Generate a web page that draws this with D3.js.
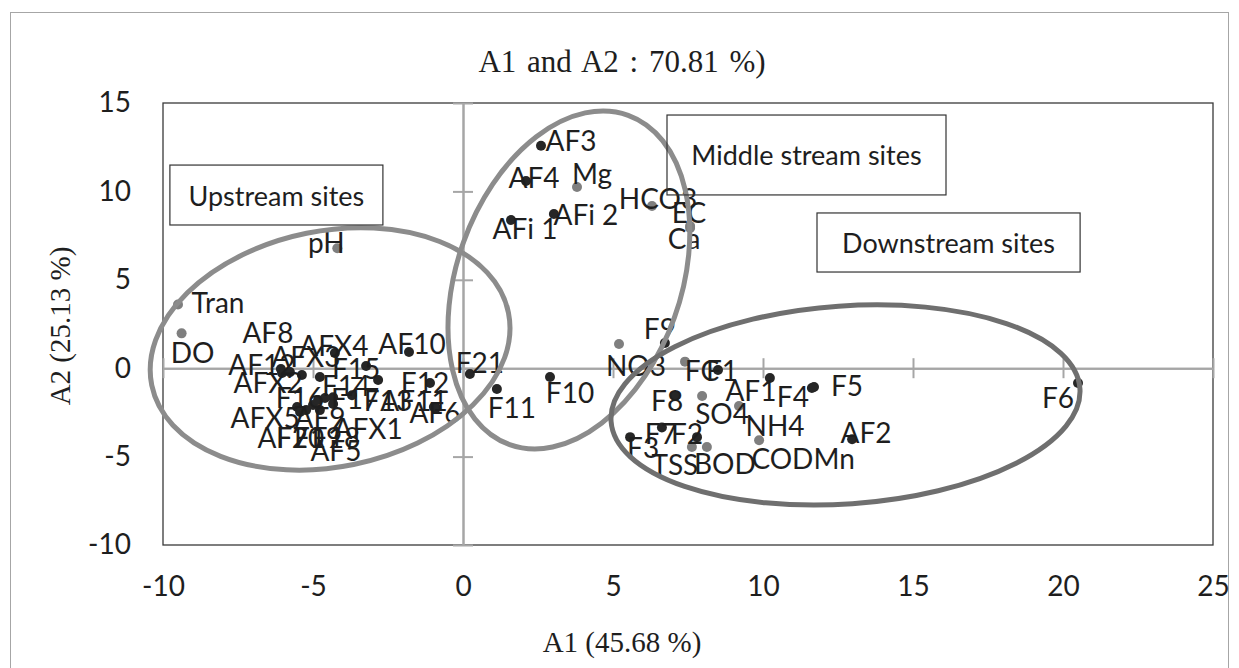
<!DOCTYPE html>
<html>
<head>
<meta charset="utf-8">
<script src="https://d3js.org/d3.v7.min.js"></script>
<style>
  body { margin: 0; background: #fff; }
  svg { display: block; }
</style>
</head>
<body>
<div id="chart"></div>
<script>
// sampling sites (black dots)
var siteNames = ["AF3","AF4","AFi 2","AFi 1","F9","F21","F11","F10",
  "F1","AF1","F4","F5","F8","AF2","F7","F2","F3","F6",
  "AF8","AFX4","AF10","AFX3","AF12","F15","AFX2","F14","F16","F13","F17",
  "AF11","AF6","F12","AFX5","AF9","AFX1","AF7","F20","F19","F18","AF5"];
var siteA1 = [2.60, 2.10, 3.03, 1.60, 6.73, 0.23, 1.13, 2.90,
  8.50, 10.23, 11.63, 11.70, 7.07, 12.97, 6.63, 7.80, 5.57, 20.50,
  -6.07, -4.27, -1.80, -5.37, -5.77, -3.23, -6.03, -2.83, -4.77, -3.70, -4.33,
  -0.90, -0.97, -1.10, -5.53, -5.00, -4.33, -5.43, -5.23, -4.83, -4.60, -4.77];
var siteA2 = [12.58, 10.59, 8.72, 8.38, 1.43, -0.33, -1.18, -0.50,
  -0.10, -0.55, -1.12, -1.06, -1.57, -4.02, -3.35, -3.90, -3.90, -0.84,
  -0.05, 0.86, 0.92, -0.38, -0.22, 0.12, -0.27, -0.67, -0.50, -1.53, -1.64,
  -2.25, -2.19, -0.84, -2.19, -2.08, -2.02, -2.48, -2.37, -1.80, -1.69, -2.37];

// water quality variables (grey dots)
var varNames = ["pH","Tran","DO","Mg","HCO3","EC","Ca","NO3","FC","SO4","NH4","CODMn","TSS","BOD"];
var varA1 = [-4.19, -9.50, -9.38, 3.80, 6.30, 7.57, 7.57, 5.20, 7.40, 7.97, 9.20, 9.87, 7.63, 8.13];
var varA2 = [6.78, 3.60, 1.97, 10.25, 9.17, 8.04, 7.93, 1.37, 0.37, -1.57, -2.14, -4.08, -4.46, -4.46];

var xTicks = [-10, -5, 0, 5, 10, 15, 20, 25];
var yTicks = [-10, -5, 0, 5, 10, 15];

// label placement relative to its dot (px)
var labelOffset = {
  "pH":[-11,-6], "Tran":[40,-3], "DO":[11,19], "AF3":[30,-6], "AF4":[8,-4], "Mg":[15,-14],
  "AFi 2":[32,0], "AFi 1":[14,8], "HCO3":[6,-8], "EC":[-1,-14], "Ca":[-6,10], "F9":[-5,-15],
  "NO3":[17,21], "F21":[10,-12], "F11":[15,18], "F10":[20,15], "FC":[17,8], "F1":[4,0],
  "AF1":[-19,12], "F4":[-19,8], "F5":[33,-2], "F8":[-8,4], "SO4":[20,17], "NH4":[36,19],
  "CODMn":[44,18], "AF2":[14,-7], "F7":[-1,6], "F2":[-10,-4], "F3":[13,10], "TSS":[-17,17],
  "BOD":[18,16], "F6":[-20,14], "AF8":[-13,-37], "AFX4":[-1,-8], "AF10":[3,-9], "AFX3":[4,-19],
  "AF12":[-28,-8], "F15":[-10,2], "AFX2":[-14,9], "F14":[-32,5], "F16":[-20,20], "F13":[36,5],
  "F17":[22,1], "AF11":[-22,-8], "AF6":[1,5], "F12":[-5,-1], "AFX5":[-32,10], "AF9":[7,12],
  "AFX1":[35,24], "AF7":[-17,25], "F20":[-6,27], "F19":[0,37], "F18":[11,39], "AF5":[16,40]
};

// group ellipses: centre in axis units, radii in px, rotation in degrees
var groupEllipses = [
  {cx: -4.43, cy: 1.09, rx: 182, ry: 118, angle: -11.5, color: "#8c8c8c"},
  {cx: 3.53, cy: 4.99, rx: 175, ry: 112, angle: -70.2, color: "#8c8c8c"},
  {cx: 12.75, cy: -2.08, rx: 235, ry: 99, angle: -4, color: "#6f6f6f"}
];
var groupBoxes = [
  {text: "Upstream sites", x0: -9.77, x1: -2.67, y0: 11.49, y1: 8.10},
  {text: "Middle stream sites", x0: 6.8, x1: 16.1, y0: 14.32, y1: 9.80},
  {text: "Downstream sites", x0: 11.8, x1: 20.57, y0: 8.78, y1: 5.44}
];

var W = 1239, H = 668;
var svg = d3.select("#chart").append("svg")
  .attr("width", W).attr("height", H);

// chart frame
svg.append("rect")
  .attr("x", 10.5).attr("y", 12.5)
  .attr("width", 1218).attr("height", 700)
  .style("fill", "none").style("stroke", "#a6a6a6");

var x = d3.scaleLinear().domain([-10, 25]).range([163, 1213]);
var y = d3.scaleLinear().domain([-10, 15]).range([545, 103]);

var sans = "Lato, 'Open Sans', sans-serif";
var serif = "'Liberation Serif', 'Times New Roman', serif";
var ink = "#1e1e1e";

// plot area
svg.append("rect")
  .attr("x", x(-10)).attr("y", y(15))
  .attr("width", x(25) - x(-10)).attr("height", y(-10) - y(15))
  .style("fill", "none").style("stroke", "#3a3a3a").style("stroke-width", 1.3);

// zero axes with crossing ticks
function zeroAxis(g) {
  g.selectAll("path").style("stroke", "#a6a6a6").style("stroke-width", 2);
  g.selectAll("line").style("stroke", "#a6a6a6").style("stroke-width", 2);
  g.selectAll("text").remove();
}
[d3.axisLeft, d3.axisRight].forEach(function(ax) {
  svg.append("g")
    .attr("transform", "translate(" + x(0) + ",0)")
    .call(ax(y).tickValues(yTicks).tickSizeInner(10).tickSizeOuter(0))
    .call(zeroAxis);
});
[d3.axisTop, d3.axisBottom].forEach(function(ax) {
  svg.append("g")
    .attr("transform", "translate(0," + y(0) + ")")
    .call(ax(x).tickValues(xTicks).tickSizeInner(10).tickSizeOuter(0))
    .call(zeroAxis);
});

// tick labels (plain hyphen minus, as in the original)
var fmt = function(d) { return String(d); };
var yLab = svg.append("g")
  .attr("transform", "translate(" + x(-10) + ",0)")
  .call(d3.axisLeft(y).tickValues(yTicks).tickFormat(fmt).tickSize(0).tickPadding(32));
var xLab = svg.append("g")
  .attr("transform", "translate(0," + y(-10) + ")")
  .call(d3.axisBottom(x).tickValues(xTicks).tickFormat(fmt).tickSize(0).tickPadding(31));
[yLab, xLab].forEach(function(g) {
  g.select(".domain").remove();
  g.selectAll("text").style("font-family", sans).style("font-size", "28px").style("fill", ink);
});

// titles
svg.append("text")
  .attr("x", 622).attr("y", 72)
  .attr("text-anchor", "middle")
  .style("font-family", serif).style("font-size", "31px").style("word-spacing", "3px").style("fill", ink)
  .text("A1 and A2 : 70.81 %)");
svg.append("text")
  .attr("x", 622).attr("y", 652)
  .attr("text-anchor", "middle")
  .style("font-family", serif).style("font-size", "29px").style("fill", ink)
  .text("A1 (45.68 %)");
svg.append("text")
  .attr("transform", "translate(70,326) rotate(-90)")
  .attr("text-anchor", "middle")
  .style("font-family", serif).style("font-size", "29px").style("fill", ink)
  .text("A2 (25.13 %)");

// points
var sites = siteNames.map(function(n, i) { return {name: n, a1: siteA1[i], a2: siteA2[i], fill: "#262626"}; });
var vars = varNames.map(function(n, i) { return {name: n, a1: varA1[i], a2: varA2[i], fill: "#7f7f7f"}; });
var pts = vars.concat(sites);

svg.append("g").selectAll("circle")
  .data(pts).enter().append("circle")
    .attr("cx", function(d) { return x(d.a1); })
    .attr("cy", function(d) { return y(d.a2); })
    .attr("r", 5)
    .style("fill", function(d) { return d.fill; });

svg.append("g").selectAll("text")
  .data(pts).enter().append("text")
    .attr("x", function(d) { return x(d.a1) + (labelOffset[d.name] || [0,0])[0]; })
    .attr("y", function(d) { return y(d.a2) + (labelOffset[d.name] || [0,0])[1]; })
    .attr("text-anchor", "middle")
    .attr("dominant-baseline", "central")
    .style("font-family", sans).style("font-size", "28px").style("fill", ink)
    .text(function(d) { return d.name; });

// group ellipses
svg.append("g").selectAll("ellipse")
  .data(groupEllipses).enter().append("ellipse")
    .attr("transform", function(d) { return "translate(" + x(d.cx) + "," + y(d.cy) + ") rotate(" + d.angle + ")"; })
    .attr("rx", function(d) { return d.rx; })
    .attr("ry", function(d) { return d.ry; })
    .style("fill", "none")
    .style("stroke", function(d) { return d.color; })
    .style("stroke-width", 5);

// group text boxes
var boxes = svg.append("g").selectAll("g")
  .data(groupBoxes).enter().append("g");
boxes.append("rect")
  .attr("x", function(d) { return x(d.x0); })
  .attr("y", function(d) { return y(d.y0); })
  .attr("width", function(d) { return x(d.x1) - x(d.x0); })
  .attr("height", function(d) { return y(d.y1) - y(d.y0); })
  .style("fill", "none").style("stroke", "#333").style("stroke-width", 1.2);
boxes.append("text")
  .attr("x", function(d) { return (x(d.x0) + x(d.x1)) / 2; })
  .attr("y", function(d) { return (y(d.y0) + y(d.y1)) / 2; })
  .attr("text-anchor", "middle")
  .attr("dominant-baseline", "central")
  .style("font-family", sans).style("font-size", "27px").style("fill", ink)
  .text(function(d) { return d.text; });
</script>
</body>
</html>
